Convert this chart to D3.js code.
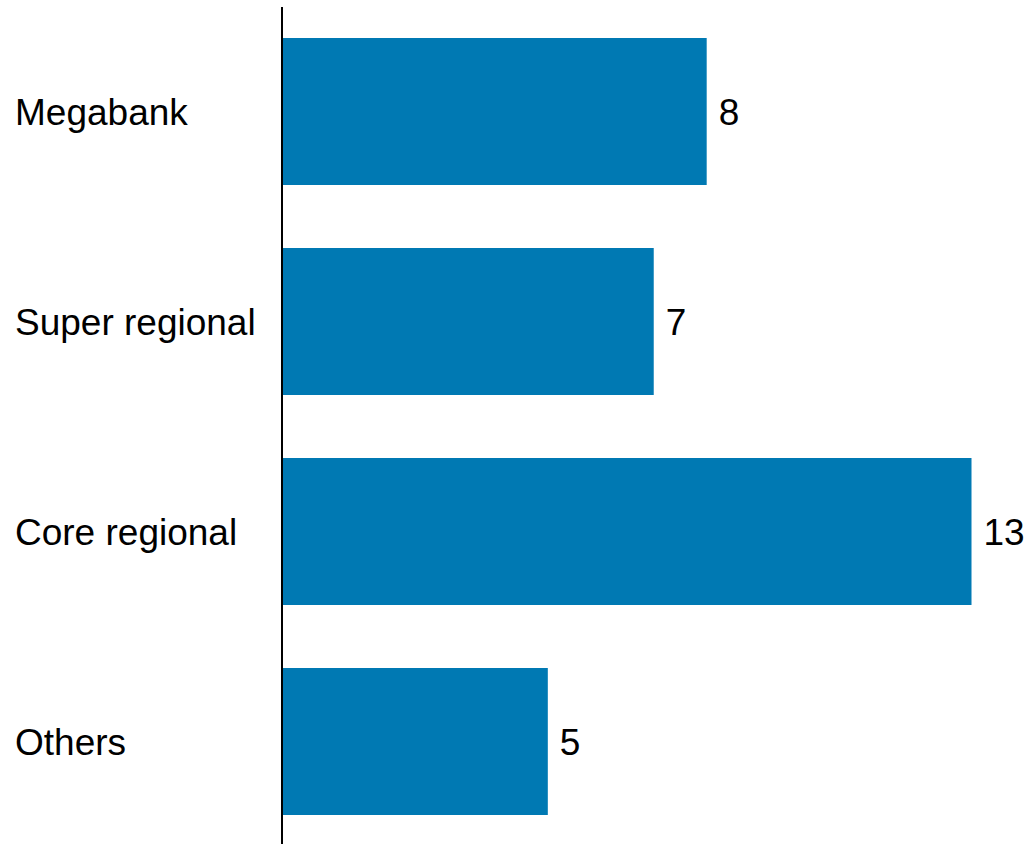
<!DOCTYPE html>
<html>
<head>
<meta charset="utf-8">
<script src="https://cdn.jsdelivr.net/npm/d3@7"></script>
<style>
  body { margin: 0; background: #fff; }
  svg { display: block; font-family: "Liberation Sans", Arial, sans-serif; }
</style>
</head>
<body>
<svg></svg>
<script>
const categories = ["Megabank", "Super regional", "Core regional", "Others"]
const values = [8, 7, 13, 5]

const barColor = "#0079b3"
const width = 1028
const height = 844

const svg = d3.select("svg")
  .attr("width", width)
  .attr("height", height)

// scales
const x0 = 283
const xScale = d3.scaleLinear()
  .domain([0, 13])
  .range([x0, x0 + 688.5])

const yScale = d3.scaleBand()
  .domain(categories)
  .range([6.5, 846.5])
  .paddingInner(0.3)
  .paddingOuter(0.15)

// bars
svg.append("g")
  .selectAll("rect")
  .data(values)
  .join("rect")
  .attr("x", xScale(0))
  .attr("y", (d, i) => yScale(categories[i]))
  .attr("width", d => xScale(d) - xScale(0))
  .attr("height", yScale.bandwidth())
  .attr("fill", barColor)

// value labels
svg.append("g")
  .selectAll("text")
  .data(values)
  .join("text")
  .attr("x", d => xScale(d) + 12)
  .attr("y", (d, i) => yScale(categories[i]) + yScale.bandwidth() / 2)
  .attr("dy", "0.36em")
  .attr("font-size", 37)
  .attr("fill", "#000")
  .text(d => d)

// category labels
svg.append("g")
  .selectAll("text")
  .data(categories)
  .join("text")
  .attr("x", 15)
  .attr("y", d => yScale(d) + yScale.bandwidth() / 2)
  .attr("dy", "0.36em")
  .attr("font-size", 37)
  .attr("fill", "#000")
  .text(d => d)

// axis line
svg.append("line")
  .attr("x1", 282)
  .attr("x2", 282)
  .attr("y1", 7)
  .attr("y2", height)
  .attr("stroke", "#000")
  .attr("stroke-width", 2)
</script>
</body>
</html>
